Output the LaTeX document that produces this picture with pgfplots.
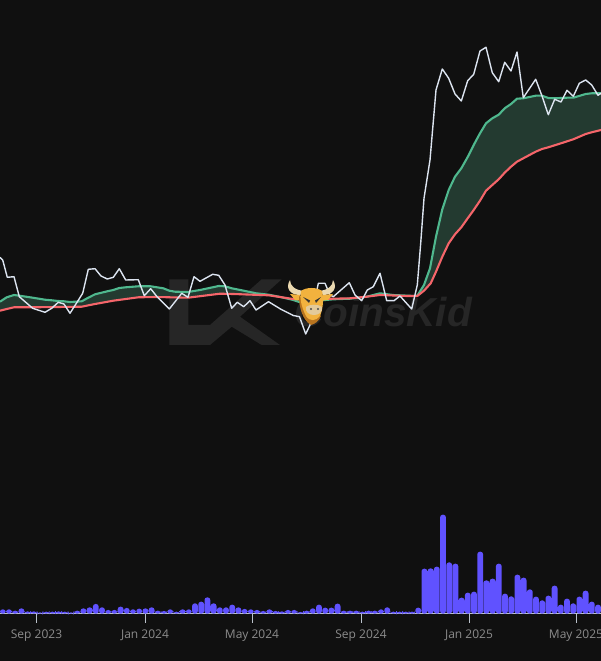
\documentclass[border=0pt]{standalone}
\usepackage{fontspec}
\setmainfont{Open Sans}
\newfontfamily\markfont{Liberation Sans}
\usepackage{pgfplots}
\pgfplotsset{compat=1.18}
\definecolor{bgc}{HTML}{101010}
\definecolor{pricec}{HTML}{DCE4F0}
\definecolor{fastc}{HTML}{4FB88E}
\definecolor{slowc}{HTML}{F5656A}
\definecolor{cloudc}{HTML}{233A30}
\definecolor{volc}{HTML}{6052FF}
\definecolor{markc}{HTML}{262626}
\definecolor{labelc}{HTML}{8C8C8C}
\definecolor{bullc}{HTML}{F2B23E}
\definecolor{bulld}{HTML}{B8741F}
\definecolor{hornc}{HTML}{EBD9B0}

\pgfplotstableread{
x y
0 257.3
2.7 260
7.3 277.3
14 276.7
19.3 296.7
32.7 308.3
45 312.3
51.7 308.3
58.3 302.3
64 304
70 313.3
82.7 293.3
88.3 269.3
95 268.7
101 276
107.3 279
113.3 277.3
119.3 268.7
125.7 280
138.3 279.7
144.3 295.7
150.7 288.7
157 296.7
169.3 309
181.7 293.3
188 297.3
194 276.7
200 281.3
212.7 274.3
218.7 275.3
225 285
231.7 308.3
237.3 302.3
243.7 306.7
250 300.7
256 310
268.5 301.7
281 309.3
293.3 315.5
299.5 316.7
305.7 334
310 325
318.3 283.3
325 283.3
330 295
333.3 296.7
349.3 282.7
355 295
361.7 300.7
367.3 290
373.3 286.7
380 273.3
386.7 300.7
394 300.7
400 296
411.7 309
417.3 285
420.7 243.3
424 198.3
430 160
436 90
442.3 69
448.7 78.3
455 94
461.3 101
467.7 80.7
473.7 74.3
480 51
486 47.3
492.3 72.7
498.7 81.7
504.7 62.3
511 71
517 52
523.3 97.7
535.7 79.3
542 96
548.3 114.7
554.7 99.3
561 102
567 90.3
573.3 96.3
579.3 83.3
585.7 80
591.7 85
598 95.3
601 93.3
}\pricetable

\pgfplotstableread{
x y
0 301.7
6.7 297.3
14 295
19.3 295.7
32.7 297.7
45 299.7
51.7 300.3
58.3 301
64 301.3
70 302
81.7 301.3
88.3 297.7
95 294.3
107.3 291.3
113.3 290
119.3 288
125.7 287.3
138.3 286.3
150.7 286.3
163.3 288.3
169.3 290.7
175 291.7
188 292
200 290
212.7 287.3
218.7 286
225 286.3
231.7 288.3
243.7 290.7
256 293.3
268.7 294.7
281.7 297.3
293.3 300
300 302.3
333.3 299.3
350 298.7
366.7 296.7
380 293.3
393 295
415 296
417.3 295.7
424 285
430 268.3
436 236.7
442.3 209.3
448.7 190
455 176.7
461.3 168.3
467.7 157
473.7 145
480 133.3
486 123.3
492.3 118.3
498.7 114.7
504.7 108.3
511 104
517 98.7
523.3 98.3
535.7 95.7
542 95.7
548.3 98
554.7 98.3
567 97.7
573.3 97.7
585.7 94
591.7 93.3
601 93.3
}\fasttable

\pgfplotstableread{
x y
0 310.7
6.7 309
14 307.3
33 307.3
81.7 306.7
95 304
113.3 300.7
138.3 297.3
156.7 297
188 297.7
220 293.7
233.3 294
268.7 295.3
293.3 299
333.3 298.7
350 298.3
366.7 296.7
380 295
406.7 296
415 296
417.3 296
424 290.7
430.7 283.3
436 271.7
442.3 256.7
448.7 243.3
455 234.3
461.3 227.3
467.7 218.3
473.7 210
480 200.7
486 190.7
492.3 185
498.7 179.3
504.7 172.7
511 166.7
517 161.7
523.3 158.3
535.7 151.7
542 149
548.3 147.3
561 143.3
573.3 139.3
585.7 134
591.7 132.3
601 130
}\slowtable

% outline of the cloud: fast line forwards, slow line backwards
\pgfplotstableread{
x y
0 301.7
6.7 297.3
14 295
19.3 295.7
32.7 297.7
45 299.7
51.7 300.3
58.3 301
64 301.3
70 302
81.7 301.3
88.3 297.7
95 294.3
107.3 291.3
113.3 290
119.3 288
125.7 287.3
138.3 286.3
150.7 286.3
163.3 288.3
169.3 290.7
175 291.7
188 292
200 290
212.7 287.3
218.7 286
225 286.3
231.7 288.3
243.7 290.7
256 293.3
268.7 294.7
281.7 297.3
293.3 300
300 302.3
333.3 299.3
350 298.7
366.7 296.7
380 293.3
393 295
415 296
417.3 295.7
424 285
430 268.3
436 236.7
442.3 209.3
448.7 190
455 176.7
461.3 168.3
467.7 157
473.7 145
480 133.3
486 123.3
492.3 118.3
498.7 114.7
504.7 108.3
511 104
517 98.7
523.3 98.3
535.7 95.7
542 95.7
548.3 98
554.7 98.3
567 97.7
573.3 97.7
585.7 94
591.7 93.3
601 93.3
601 130
591.7 132.3
585.7 134
573.3 139.3
561 143.3
548.3 147.3
542 149
535.7 151.7
523.3 158.3
517 161.7
511 166.7
504.7 172.7
498.7 179.3
492.3 185
486 190.7
480 200.7
473.7 210
467.7 218.3
461.3 227.3
455 234.3
448.7 243.3
442.3 256.7
436 271.7
430.7 283.3
424 290.7
417.3 296
415 296
406.7 296
380 295
366.7 296.7
350 298.3
333.3 298.7
293.3 299
268.7 295.3
233.3 294
220 293.7
188 297.7
156.7 297
138.3 297.3
113.3 300.7
95 304
81.7 306.7
33 307.3
14 307.3
6.7 309
0 310.7
}\cloudtable

\pgfplotstableread{
x y
2.8 4.3
9 4.3
15.2 3
21.4 5.3
27.6 2.3
33.8 2.3
40 1.3
46.2 2
52.4 2
58.6 2.3
64.8 2
71 1.3
77.2 3
83.4 5.3
89.6 6.3
95.8 9.7
102 6.3
108.2 3.7
114.4 3.7
120.6 7
126.8 5.7
133 4.3
139.2 5
145.4 5.3
151.6 6.3
157.8 3
164 2.7
170.2 4.3
176.4 2
182.6 4.3
188.8 4.3
195 10.3
201.2 12
207.4 16.3
213.6 10.3
219.8 6.3
226 6.3
232.2 9
238.4 6.3
244.6 4.7
250.8 4.3
257 3.7
263.2 2.7
269.4 4.3
275.6 2.7
281.8 2.3
288 3.7
294.2 3.7
300.4 1.7
306.6 3
312.8 5.3
319 9
325.2 6
331.4 6
337.6 10
343.8 3
350 3
356.2 3
362.4 2
368.6 3
374.8 3
381 4.3
387.2 6.3
393.4 2
399.6 2
405.8 2
412 2
418.2 6
424.4 45
430.6 45.3
436.8 47
443 99
449.2 51.3
455.4 50
461.6 16
467.8 21
474 22
480.2 62
486.4 33.3
492.6 35
498.8 50
505 20
511.2 17.3
517.4 39
523.6 36
529.8 24.3
536 17
542.2 13.3
548.4 18
554.6 28
560.8 9
567 15
573.2 10.3
579.4 17
585.6 23
591.8 12
598 9
}\voltable

\begin{document}
\begin{tikzpicture}
\fill[bgc] (0,0) rectangle (601pt,661pt);
% volume panel, zero of the bars on the time axis
\begin{axis}[
    at={(0,0)}, anchor=south west,
    width=601pt, height=661pt, scale only axis,
    xmin=0, xmax=601, ymin=-47.3, ymax=613.7,
    axis y line=none, axis x line=none,
    clip=true,
    xtick=\empty, ytick=\empty,
]
    \draw[pricec!85!black, line width=0.6pt] (axis cs:0,0) -- (axis cs:601,0);
    \addplot[ybar, bar width=5.8pt, bar shift=0pt, fill=volc, draw=none, rounded corners=2.6pt] table[x=x,y=y] {\voltable};
    \foreach \t/\l in {36.5/Sep 2023, 145/Jan 2024, 252/May 2024, 361/Sep 2024, 469/Jan 2025, 576/May 2025} {
        \edef\tmp{\noexpand\draw[pricec!85!black, line width=0.7pt] (axis cs:\t,0) -- (axis cs:\t,-9);
        \noexpand\node[text=labelc, font=\noexpand\fontsize{12}{14}\noexpand\selectfont, anchor=center] at (axis cs:\t,-22) {\l};}
        \tmp
    }
\end{axis}
% price panel
\begin{axis}[
    at={(0,0)}, anchor=south west,
    width=601pt, height=661pt, scale only axis,
    xmin=0, xmax=601, ymin=0, ymax=661, y dir=reverse,
    axis y line=none, axis x line=none,
    xtick=\empty, ytick=\empty,
]
    % watermark
    \fill[markc] (axis cs:169.3,279.3) -- (axis cs:188.3,279.3) -- (axis cs:188.3,325) -- (axis cs:210,325) -- (axis cs:261.7,279.3) -- (axis cs:281.7,279.3) -- (axis cs:240,316.7) -- (axis cs:280,345) -- (axis cs:261.7,345) -- (axis cs:231.7,326.7) -- (axis cs:210,345) -- (axis cs:169.3,345) -- cycle;
    \node[text=markc, font=\markfont\bfseries\itshape\fontsize{40.5}{44}\selectfont, anchor=west, inner sep=0pt] at (axis cs:294,312) {CoinsKid};

    \addplot[fill=cloudc, draw=none, forget plot] table[x=x,y=y] {\cloudtable} -- cycle;
    \addplot[fastc, line width=2.1pt, line join=round] table[x=x,y=y] {\fasttable};
    \addplot[slowc, line width=2.1pt, line join=round] table[x=x,y=y] {\slowtable};
    \addplot[pricec, line width=1.4pt, line join=round] table[x=x,y=y] {\pricetable};

    % bull mascot
    \fill[hornc] (axis cs:300,295) .. controls (axis cs:290,295) and (axis cs:285,288) .. (axis cs:290,280) .. controls (axis cs:290,286) and (axis cs:295,290) .. (axis cs:304,291) -- cycle;
    \fill[hornc] (axis cs:323,295) .. controls (axis cs:333,295) and (axis cs:338,288) .. (axis cs:333,280) .. controls (axis cs:333,286) and (axis cs:328,290) .. (axis cs:319,291) -- cycle;
    \fill[bullc] (axis cs:300,295) -- (axis cs:290,294) -- (axis cs:295,300) -- (axis cs:303,301) -- cycle;
    \fill[bullc] (axis cs:323,295) -- (axis cs:333,294) -- (axis cs:328,300) -- (axis cs:320,301) -- cycle;
    \fill[bulld] (axis cs:299,296) .. controls (axis cs:299,306) and (axis cs:302,320) .. (axis cs:311,325) .. controls (axis cs:315,324) and (axis cs:319,321) .. (axis cs:321,316) -- cycle;
    \fill[bullc] (axis cs:301,291) .. controls (axis cs:306,287) and (axis cs:317,287) .. (axis cs:322,291) .. controls (axis cs:324,299) and (axis cs:323,309) .. (axis cs:320,316) .. controls (axis cs:316,321) and (axis cs:310,322) .. (axis cs:306,316) .. controls (axis cs:303,310) and (axis cs:299,300) .. (axis cs:301,291) -- cycle;
    \fill[hornc!85!bulld] (axis cs:306,307) .. controls (axis cs:309,304) and (axis cs:319,304) .. (axis cs:322,307) .. controls (axis cs:323,312) and (axis cs:319,315) .. (axis cs:314,315) .. controls (axis cs:309,315) and (axis cs:305,312) .. (axis cs:306,307) -- cycle;
    \fill[black!80] (axis cs:303,297) -- (axis cs:310,300.5) -- (axis cs:309,303) -- cycle;
    \fill[black!80] (axis cs:321,297) -- (axis cs:315,300.5) -- (axis cs:316,303) -- cycle;
    \fill[black!70] (axis cs:311,309) circle[radius=1.2pt];
    \fill[black!70] (axis cs:318,309) circle[radius=1.2pt];
\end{axis}
\end{tikzpicture}
\end{document}
